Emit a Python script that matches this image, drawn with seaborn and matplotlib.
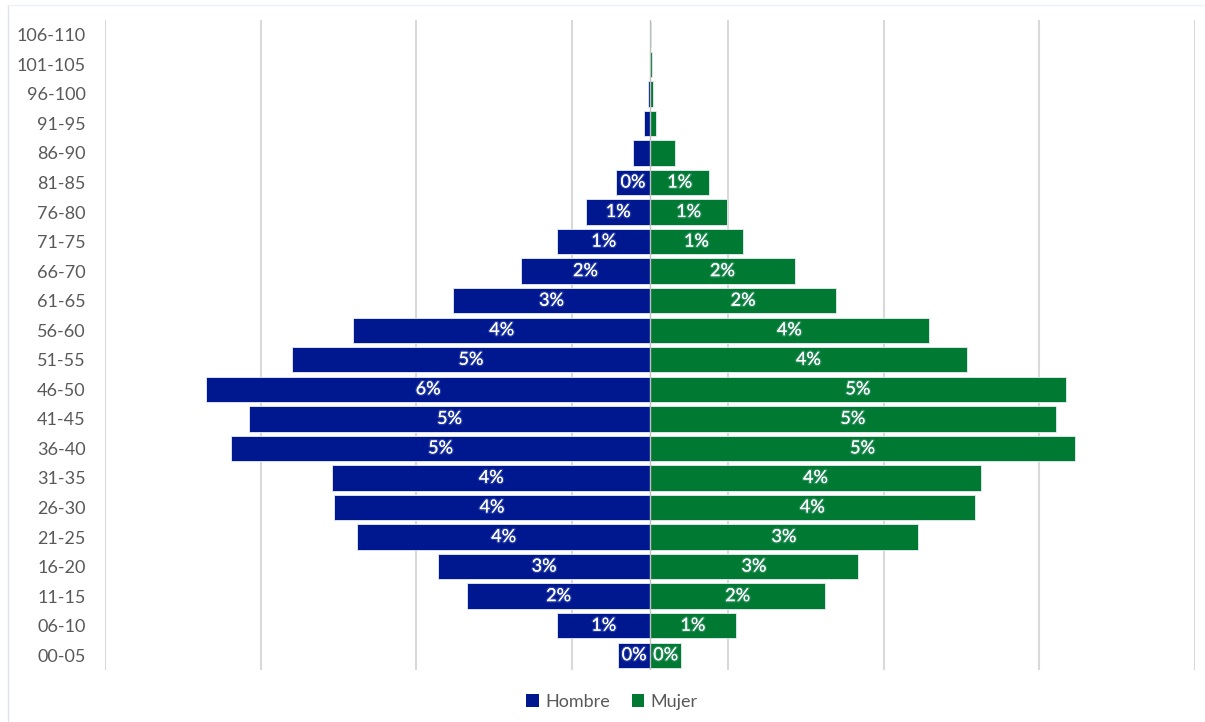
import matplotlib
matplotlib.use("Agg")
import matplotlib.pyplot as plt
import matplotlib.patheffects as pe
from matplotlib.lines import Line2D
from matplotlib.patches import Patch
import numpy as np
import pandas as pd
import seaborn as sns

# Age groups, youngest first
grupos = ["00-05", "06-10", "11-15", "16-20", "21-25", "26-30", "31-35",
          "36-40", "41-45", "46-50", "51-55", "56-60", "61-65", "66-70",
          "71-75", "76-80", "81-85", "86-90", "91-95", "96-100", "101-105",
          "106-110"]

# Share of total population (%) per group
hombre = [0.41, 1.19, 2.35, 2.72, 3.76, 4.06, 4.08, 5.38, 5.15, 5.70, 4.60,
          3.81, 2.53, 1.66, 1.19, 0.82, 0.44, 0.22, 0.08, 0.03, 0.006, 0.003]
mujer = [0.40, 1.10, 2.25, 2.67, 3.44, 4.17, 4.25, 5.46, 5.21, 5.34, 4.07,
         3.58, 2.39, 1.86, 1.19, 0.99, 0.76, 0.32, 0.08, 0.04, 0.02, 0.015]

# Groups that carry a data label (up to 81-85)
n_etiquetas = 17

color_h = "#00188F"
color_m = "#007A33"
gris_texto = "#595959"

sns.set_theme(style="white")
plt.rcParams["font.family"] = ["Lato", "DejaVu Sans"]

df = pd.DataFrame({
    "grupo": grupos * 2,
    "valor": [-v for v in hombre] + mujer,
    "sexo": ["Hombre"] * len(grupos) + ["Mujer"] * len(grupos),
})

orden = grupos[::-1]

fig = plt.figure(figsize=(12.05, 7.22), dpi=100)
ax = fig.add_axes([105 / 1205, 1 - 670 / 722, 1090 / 1205, 650 / 722])

sns.barplot(data=df, y="grupo", x="valor", hue="sexo", order=orden,
            hue_order=["Hombre", "Mujer"], palette=[color_h, color_m],
            saturation=1, dodge=False, width=0.86, orient="h", ax=ax,
            legend=False, edgecolor="#E8ECF4", linewidth=0.6, zorder=2)

ax.set_xlim(-7, 7)
ax.set_ylim(len(grupos) - 0.5, -0.5)
ax.set_xticks(np.arange(-7, 8, 2))
ax.set_xticklabels([])
ax.xaxis.grid(True, color="#D9D9D9", linewidth=1.5)
ax.yaxis.grid(False)
ax.set_axisbelow(True)
ax.axvline(0, color="#BFBFBF", linewidth=1.0, zorder=3)
for s in ax.spines.values():
    s.set_visible(False)
ax.set_xlabel("")
ax.set_ylabel("")
ax.tick_params(axis="y", length=0, pad=14, labelsize=13, labelcolor=gris_texto)
ax.tick_params(axis="x", length=0)

# Data labels centred in each bar, with a soft glow
brillo = [pe.withStroke(linewidth=2.0, foreground=(0.85, 0.9, 1.0, 0.18))]
for serie, datos in (("Hombre", hombre), ("Mujer", mujer)):
    for i in range(n_etiquetas):
        v = datos[i]
        x = -v / 2 if serie == "Hombre" else v / 2
        y = orden.index(grupos[i])
        ax.text(x, y, f"{round(v):.0f}%", ha="center", va="center",
                color="white", fontsize=13, path_effects=brillo, zorder=4)

# Legend
handles = [Patch(facecolor=color_h, edgecolor="none", label="Hombre"),
           Patch(facecolor=color_m, edgecolor="none", label="Mujer")]
fig.legend(handles=handles, loc="center", bbox_to_anchor=(0.508, 1 - 702 / 722),
           ncol=2, frameon=False, fontsize=13, handlelength=0.7,
           handleheight=0.7, handletextpad=0.35, columnspacing=1.2,
           labelcolor=gris_texto)

# Chart area border
fig.add_artist(Line2D([8 / 1205, 8 / 1205], [0, 1 - 5 / 722],
                      transform=fig.transFigure, color="#DCE3EE", linewidth=1))
fig.add_artist(Line2D([8 / 1205, 1], [1 - 5 / 722, 1 - 5 / 722],
                      transform=fig.transFigure, color="#EEF1F6", linewidth=1))

fig.savefig("out.png", dpi=100, facecolor="white")
